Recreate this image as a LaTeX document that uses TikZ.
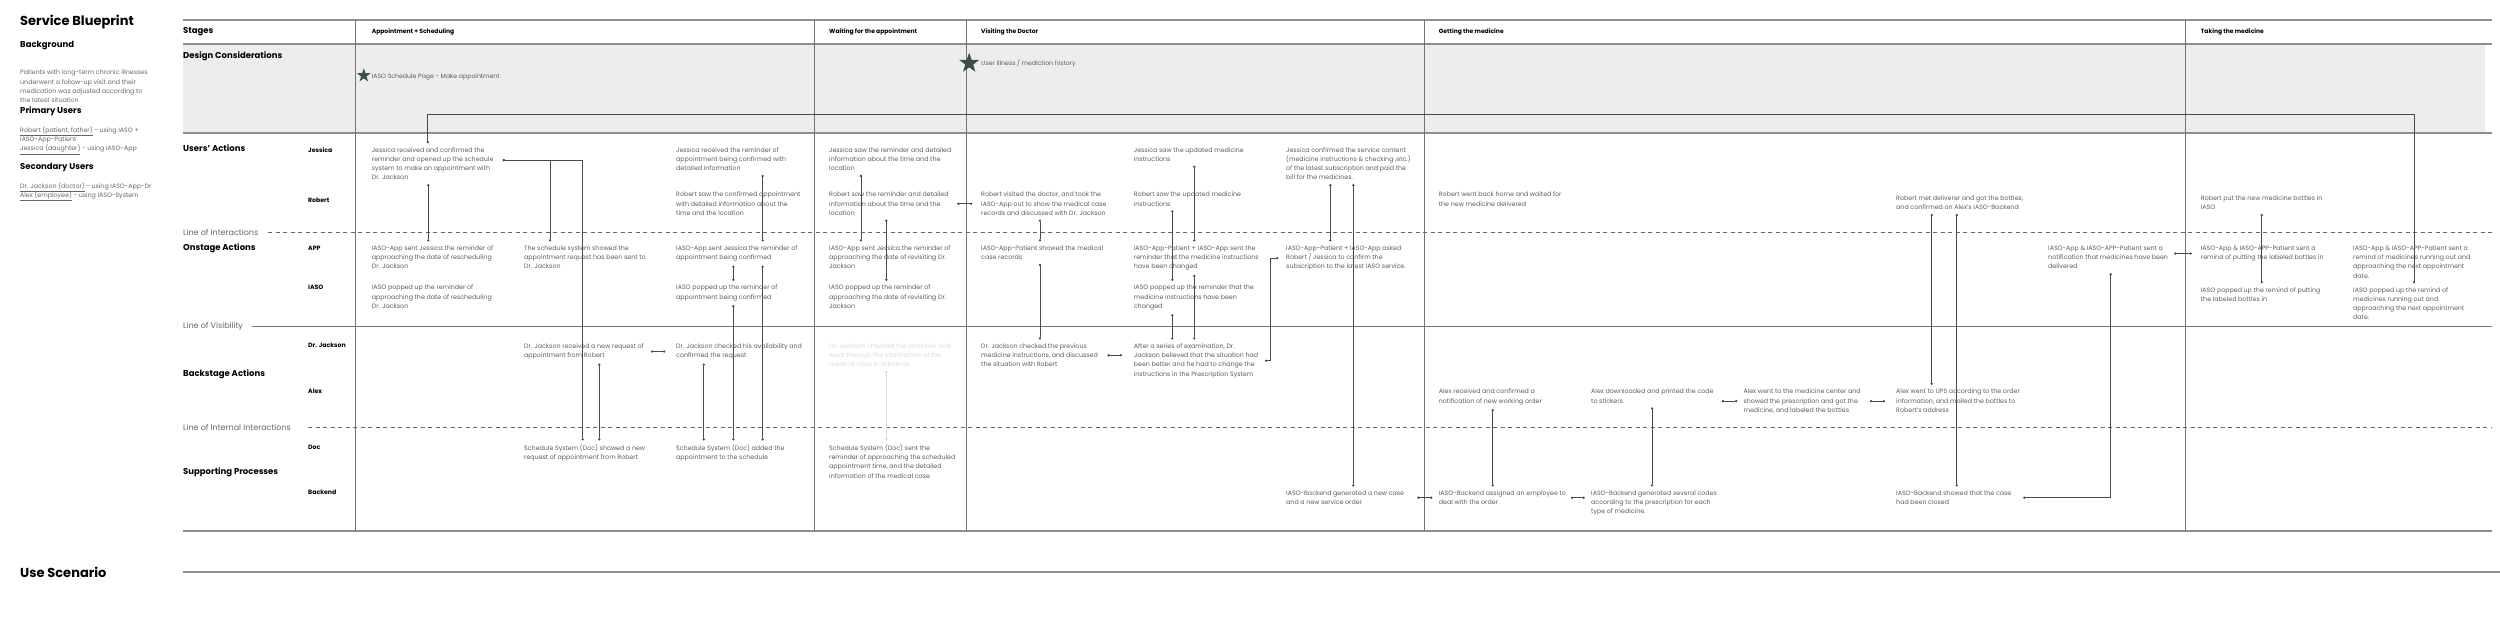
\documentclass[tikz,border=0pt]{standalone}
\usepackage{fontspec}
\setmainfont{Poppins}
\usepackage{tikz}
\usetikzlibrary{calc,shapes.geometric,arrows.meta,positioning}
\definecolor{bandgray}{HTML}{EDEDED}
\definecolor{rulegray}{HTML}{8E8E8E}
\definecolor{textgray}{HTML}{5C5C5C}
\definecolor{linkgray}{HTML}{4A4A4A}
\definecolor{stargreen}{HTML}{3B4F45}

\begin{document}
\begin{tikzpicture}[
        x=1pt, y=-1pt,
        cell/.style={
            anchor=north west,
            yshift=6.8pt,
            align=left,
            inner xsep=0pt,
            inner ysep=4pt,
            text=textgray,
            font=\fontsize{6.3}{9.2}\selectfont
        },
        bigtitle/.style={anchor=west, inner sep=0pt, font=\fontsize{13}{15}\selectfont\bfseries},
        subhead/.style={anchor=west, inner sep=0pt, font=\fontsize{8.5}{10}\selectfont\bfseries},
        actor/.style={anchor=west, inner sep=0pt, font=\fontsize{6.2}{7}\selectfont\bfseries},
        stagehead/.style={anchor=west, inner sep=0pt, font=\fontsize{6}{7}\selectfont\bfseries},
        linelabel/.style={anchor=west, inner sep=0pt, text=black!60, font=\fontsize{8}{9}\selectfont},
        note/.style={anchor=west, inner sep=0pt, text=textgray, font=\fontsize{6.2}{7}\selectfont},
        starmark/.style={star, star points=5, star point ratio=2.5, fill=stargreen, draw=none, inner sep=0pt},
        tableline/.style={draw=rulegray, line width=1.3pt},
        divider/.style={draw=black!55, line width=0.9pt},
        dashline/.style={draw=black!60, line width=0.7pt, dash pattern=on 4pt off 3.5pt},
        link/.style={draw=linkgray, line width=0.55pt, {Circle[length=2.3pt]}-{Circle[length=2.3pt]}},
        fadedlink/.style={link, draw=black!15}
    ]
        \useasboundingbox (0,0) rectangle (2500,620);

        % table frame
        \fill[bandgray] (183,44) rectangle (2485,133);
        \draw[tableline] (183,20) -- (2492,20);
        \draw[tableline] (183,44) -- (2492,44);
        \draw[tableline] (183,133) -- (2492,133);
        \draw[tableline] (183,531) -- (2492,531);
        \draw[tableline] (183,572) -- (2500,572);
        \foreach \x in {355,814,966,1424,2185}
            \draw[divider] (\x,20) -- (\x,531);
        \draw[dashline] (268,232) -- (2492,232);
        \draw[divider] (252,326.7) -- (2492,326.7);
        \draw[dashline] (308,427.7) -- (2492,427.7);

        % left block
        \node[bigtitle] (title) at (20,22) {Service Blueprint};
        \node[subhead] (bghead) at (20,46) {Background};
        \node[cell, text=black!60] (bgtext) at (20,72.7) {Patients with long-term chronic illnesses\\underwent a follow-up visit and their\\medication was adjusted according to\\the latest situation};
        \node[subhead] (puhead) at (20,111.7) {Primary Users};
        \node[cell, text=black!60] (putext) at (20,129) {\underline{Robert (patient, father)} - using IASO +\\IASO-App-Patient\\\underline{Jessica (daughter)} - using IASO-App};
        \node[subhead] (suhead) at (20,167) {Secondary Users};
        \node[cell, text=black!60] (sutext) at (20,185) {\underline{Dr. Jackson (doctor)} - using IASO-App-Dr\\\underline{Alex (employee)} - using IASO-System};
        \node[bigtitle] (scenario) at (20,572) {Use Scenario};

        % row labels
        \node[subhead] (stages) at (183,31.7) {Stages};
        \node[subhead] (design) at (183,56) {Design Considerations};
        \node[subhead] (users) at (183,148.3) {Users' Actions};
        \node[subhead] (onstage) at (183,248.3) {Onstage Actions};
        \node[subhead] (backstage) at (183,374) {Backstage Actions};
        \node[subhead] (support) at (183,472.3) {Supporting Processes};
        \node[linelabel] (interact) at (183,232.3) {Line of Interactions};
        \node[linelabel] (visible) at (183,326.7) {Line of Visibility};
        \node[linelabel] (internal) at (183,427.7) {Line of Internal Interactions};

        \node[actor] (jessica) at (308,150) {Jessica};
        \node[actor] (robert) at (308,200.7) {Robert};
        \node[actor] (app) at (308,248.3) {APP};
        \node[actor] (iaso) at (308,287.3) {IASO};
        \node[actor] (jackson) at (308,345) {Dr. Jackson};
        \node[actor] (alex) at (308,391.7) {Alex};
        \node[actor] (doc) at (308,447.3) {Doc};
        \node[actor] (backend) at (308,492.7) {Backend};

        % stages
        \node[stagehead] (st1) at (371.7,32.3) {Appointment + Scheduling};
        \node[stagehead] (st2) at (829,32.3) {Waiting for the appointment};
        \node[stagehead] (st3) at (981,32.3) {Visiting the Doctor};
        \node[stagehead] (st4) at (1438.7,32.3) {Getting the medicine};
        \node[stagehead] (st5) at (2200.7,32.3) {Taking the medicine};

        % design considerations
        \node[starmark, minimum size=14.4pt] (star1) at (363.8,75.5) {};
        \node[note] (dc1) at (371.7,76.7) {IASO Schedule Page - Make appointment};
        \node[starmark, minimum size=21pt] (star2) at (969.2,63.2) {};
        \node[note] (dc2) at (981.2,63.3) {User illness / mediction history};

        % appointment + scheduling
        \node[cell] (j1) at (371.7,150) {Jessica received and confirmed the\\reminder and opened up the schedule\\system to make an appointment with\\Dr. Jackson};
        \node[cell] (a1) at (371.7,248.3) {IASO-App sent Jessica the reminder of\\approaching the date of rescheduling\\Dr. Jackson};
        \node[cell] (i1) at (371.7,287.7) {IASO popped up the reminder of\\approaching the date of rescheduling\\Dr. Jackson};
        \node[cell] (a2) at (524,248.3) {The schedule system showed the\\appointment request has been sent to\\Dr. Jackson};
        \node[cell] (d1) at (524,346.3) {Dr. Jackson received a new request of\\appointment from Robert};
        \node[cell] (c1) at (524,447.3) {Schedule System (Doc) showed a new\\request of appointment from Robert};
        \node[cell] (j2) at (676,150) {Jessica received the reminder of\\appointment being confirmed with\\detailed information};
        \node[cell] (r2) at (676,194.7) {Robert saw the confirmed appointment\\with detailed information about the\\time and the location};
        \node[cell] (a3) at (676,248.3) {IASO-App sent Jessica the reminder of\\appointment being confirmed};
        \node[cell] (i3) at (676,287.7) {IASO popped up the reminder of\\appointment being confirmed};
        \node[cell] (d2) at (676,346.3) {Dr. Jackson checked his availability and\\confirmed the request};
        \node[cell] (c2) at (676,447.3) {Schedule System (Doc) added the\\appointment to the schedule};

        % waiting for the appointment
        \node[cell] (j3) at (829,150) {Jessica saw the reminder and detailed\\information about the time and the\\location};
        \node[cell] (r3) at (829,194.7) {Robert saw the reminder and detailed\\information about the time and the\\location};
        \node[cell] (a4) at (829,248.3) {IASO-App sent Jessica the reminder of\\approaching the date of revisiting Dr.\\Jackson};
        \node[cell] (i4) at (829,287.7) {IASO popped up the reminder of\\approaching the date of revisiting Dr.\\Jackson};
        \node[cell, text=black!15] (d3) at (829,346.3) {Dr. Jackson checked the reminder and\\went through the information of the\\medical case in advance};
        \node[cell] (c3) at (829,447.3) {Schedule System (Doc) sent the\\reminder of approaching the scheduled\\appointment time, and the detailed\\information of the medical case};

        % visiting the doctor
        \node[cell] (r4) at (981,194.7) {Robert visited the doctor, and took the\\IASO-App out to show the medical case\\records and discussed with Dr. Jackson};
        \node[cell] (a5) at (981,248.3) {IASO-App-Patient showed the medical\\case records};
        \node[cell] (d4) at (981,346.3) {Dr. Jackson checked the previous\\medicine instructions, and discussed\\the situation with Robert};
        \node[cell] (j4) at (1133.7,150) {Jessica saw the updated medicine\\instructions};
        \node[cell] (r5) at (1133.7,194.7) {Robert saw the updated medicine\\instructions};
        \node[cell] (a6) at (1133.7,248.3) {IASO-App-Patient + IASO-App sent the\\reminder that the medicine instructions\\have been changed};
        \node[cell] (i6) at (1133.7,287.7) {IASO popped up the reminder that the\\medicine instructions have been\\changed};
        \node[cell] (d5) at (1133.7,346.3) {After a series of examination, Dr.\\Jackson believed that the situation had\\been better and he had to change the\\instructions in the Prescription System};
        \node[cell] (j5) at (1286,150) {Jessica confirmed the service content\\(medicine instructions \& checking ,etc.)\\of the latest subscription and paid the\\bill for the medicines.};
        \node[cell] (a7) at (1286,248.3) {IASO-App-Patient + IASO-App asked\\Robert / Jessica to confirm the\\subscription to the latest IASO service.};
        \node[cell] (b1) at (1286,493.3) {IASO-Backend generated a new case\\and a new service order};

        % getting the medicine
        \node[cell] (r6) at (1438.7,194.7) {Robert went back home and waited for\\the new medicine delivered};
        \node[cell] (x1) at (1438.7,391.7) {Alex received and confirmed a\\notification of new working order};
        \node[cell] (b2) at (1438.7,493.3) {IASO-Backend assigned an employee to\\deal with the order};
        \node[cell] (x2) at (1591,391.7) {Alex downloaded and printed the code\\to stickers.};
        \node[cell] (b3) at (1591,493.3) {IASO-Backend generated several codes\\according to the prescription for each\\type of medicine.};
        \node[cell] (x3) at (1743.3,391.7) {Alex went to the medicine center and\\showed the prescription and got the\\medicine, and labeled the bottles};
        \node[cell] (r7) at (1896,198.3) {Robert met deliverer and got the bottles,\\and confirmed on Alex's IASO-Backend};
        \node[cell] (x4) at (1896,391.7) {Alex went to UPS according to the order\\information, and mailed the bottles to\\Robert's address};
        \node[cell] (b4) at (1896,493.3) {IASO-Backend showed that the case\\had been closed};
        \node[cell] (a8) at (2048,248.3) {IASO-App \& IASO-APP-Patient sent a\\notification that medicines have been\\delivered};

        % taking the medicine
        \node[cell] (r8) at (2200.7,198.3) {Robert put the new medicine bottles in\\IASO};
        \node[cell] (a9) at (2200.7,248.3) {IASO-App \& IASO-APP-Patient sent a\\remind of putting the labeled bottles in};
        \node[cell] (i9) at (2200.7,290) {IASO popped up the remind of putting\\the labeled bottles in};
        \node[cell] (a10) at (2353,248.3) {IASO-App \& IASO-APP-Patient sent a\\remind of medicines running out and\\approaching the next appointment\\date.};
        \node[cell] (i10) at (2353,290) {IASO popped up the remind of\\medicines running out and\\approaching the next appointment\\date.};

        % connectors
        \draw[link] ($(j1.south west)+(56.6,0)$) -- ($(a1.north west)+(56.6,0)$);
        \draw[link] ($(j1.east)+(9,-3.5)$) -| ($(a2.north west)+(26,0)$);
        \draw[link] ($(j1.east)+(9,-3.5)$) -| ($(c1.north west)+(58.7,0)$);
        \draw[link] ($(d1.south west)+(75.3,0)$) -- ($(c1.north west)+(75.3,0)$);
        \draw[link] ($(d1.east)+(7,0)$) -- ($(d1.east -| d2.west)+(-10.7,0)$);
        \draw[link] ($(d2.south west)+(27.7,0)$) -- ($(c2.north west)+(27.7,0)$);
        \draw[link] ($(a3.south west)+(57.3,0)$) -- ($(i3.north west)+(57.3,0)$);
        \draw[link] ($(i3.south west)+(57.3,0)$) -- ($(c2.north west)+(57.3,0)$);
        \draw[link] ($(j2.south west)+(86.7,0)$) -- ($(a3.north west)+(86.7,0)$);
        \draw[link] ($(a3.south west)+(86.7,0)$) -- ($(c2.north west)+(86.7,0)$);

        \draw[link] ($(j3.south west)+(32,0)$) -- ($(a4.north west)+(32,0)$);
        \draw[link] ($(r3.south west)+(57.3,0)$) -- ($(i4.north west)+(57.3,0)$);
        \draw[link] ($(r3.east)+(8.4,0)$) -- ($(r3.east -| r4.west)+(-8.7,0)$);
        \draw[fadedlink] ($(d3.south west)+(57.3,0)$) -- ($(c3.north west)+(57.3,0)$);

        \draw[link] ($(r4.south west)+(59,0)$) -- ($(a5.north west)+(59,0)$);
        \draw[link] ($(a5.south west)+(59,0)$) -- ($(d4.north west)+(59,0)$);
        \draw[link] ($(j4.south west)+(60.6,0)$) -- ($(a6.north west)+(60.6,0)$);
        \draw[link] ($(r5.south west)+(38.6,0)$) -- ($(i6.north west)+(38.6,0)$);
        \draw[link] ($(i6.south west)+(38.6,0)$) -- ($(d5.north west)+(38.6,0)$);
        \draw[link] ($(a6.south west)+(60.6,0)$) -- ($(d5.north west)+(60.6,0)$);
        \draw[link] ($(d4.east)+(9.4,0)$) -- ($(d4.east -| d5.west)+(-11.7,0)$);
        \draw[link] ($(d5.east)+(6.6,0)$) -| ($(a7.west)+(-15.3,0)$) -- ($(a7.west)+(-7.7,0)$);
        \draw[link] ($(j5.south west)+(44.3,0)$) -- ($(a7.north west)+(44.3,0)$);
        \draw[link] ($(j5.south west)+(67.3,0)$) -- ($(b1.north west)+(67.3,0)$);
        \draw[link] ($(b1.east)+(13,0)$) -- ($(b1.east -| b2.west)+(-6.4,0)$);

        \draw[link] ($(x1.south west)+(54,0)$) -- ($(b2.north west)+(54,0)$);
        \draw[link] ($(b2.east)+(4.7,0)$) -- ($(b2.east -| b3.west)+(-6.3,0)$);
        \draw[link] ($(x2.south west)+(61,0)$) -- ($(b3.north west)+(61,0)$);
        \draw[link] ($(x3.west -| x2.east)+(8,0)$) -- ($(x3.west)+(-6,0)$);
        \draw[link] ($(x3.east)+(9,0)$) -- ($(x3.east -| x4.west)+(-11,0)$);
        \draw[link] ($(r7.south west)+(35.7,0)$) -- ($(x4.north west)+(35.7,0)$);
        \draw[link] ($(r7.south west)+(60.7,0)$) -- ($(b4.north west)+(60.7,0)$);
        \draw[link] ($(a8.south west)+(62.7,0)$) |- ($(b4.east)+(11.7,0)$);
        \draw[link] ($(a9.west -| a8.east)+(6,0)$) -- ($(a9.west)+(-9,0)$);

        \draw[link] ($(r8.south west)+(61,0)$) -- ($(i9.north west)+(61,0)$);
        \draw[link] ($(i10.north west)+(61,0)$) -- ++(0,-169.2) -| ($(j1.north west)+(56,0)$);
    \end{tikzpicture}
\end{document}
